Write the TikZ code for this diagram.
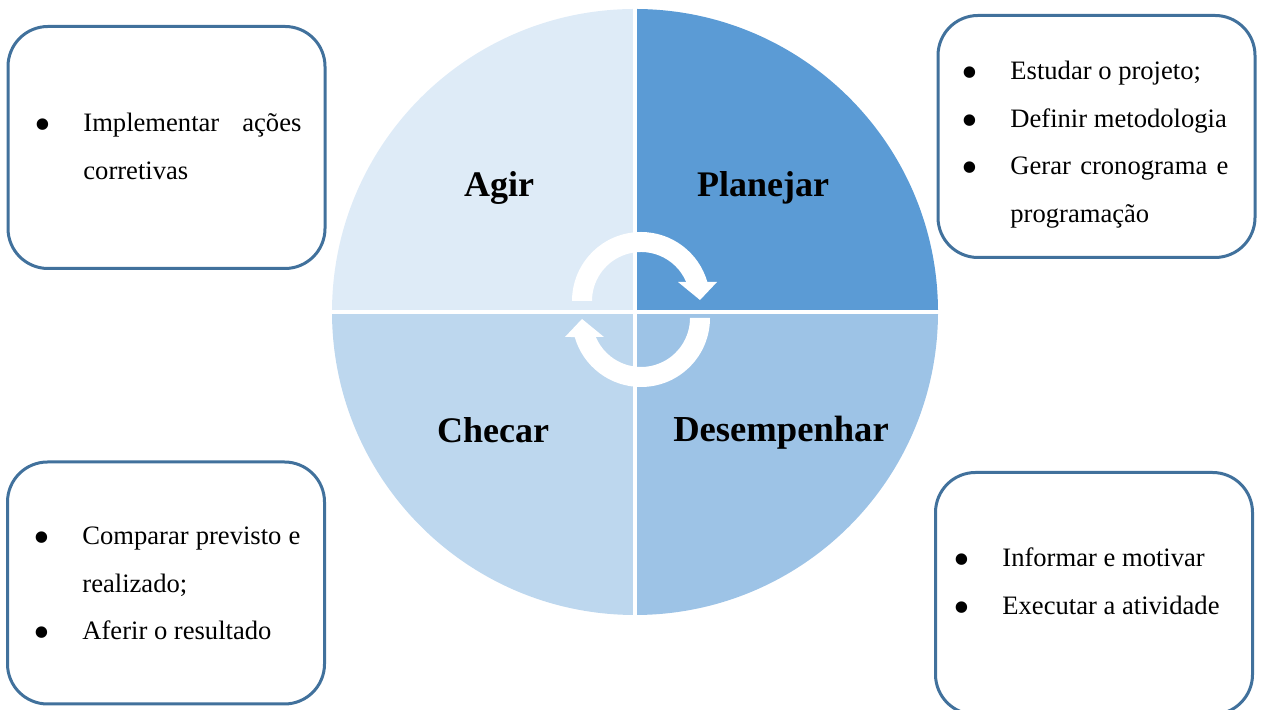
\documentclass[tikz,border=0pt]{standalone}
\usepackage{fontspec}
\setmainfont{Liberation Serif}
\usetikzlibrary{positioning}

\definecolor{agirC}{HTML}{DEEBF7}
\definecolor{planC}{HTML}{5B9BD5}
\definecolor{desC}{HTML}{9DC3E6}
\definecolor{checC}{HTML}{BDD7EE}
\definecolor{boxLine}{HTML}{41719C}

\newcommand{\pdcabullet}{\raisebox{-4.4pt}{\fontsize{24}{0}\selectfont\textbullet}}
\newcommand{\pdcaitem}[1]{\noindent\hangindent=23.5pt\hangafter=1\makebox[23.5pt][l]{\hspace*{-0.8pt}\pdcabullet}#1\par}

\begin{document}
\begin{tikzpicture}[x=0.5pt,y=0.5pt,
    quadlabel/.style={anchor=base,inner sep=0pt,font=\fontsize{18}{22}\selectfont\bfseries},
    notebox/.style={draw=boxLine,line width=1.5pt,rounded corners=20pt,fill=white,
      minimum width=158.5pt,minimum height=121pt,inner sep=0pt},
    notetext/.style={anchor=base west,inner sep=0pt,text width=132.5pt,align=justify,
      font=\fontsize{13.3}{23.7}\selectfont}]
  \useasboundingbox (0,0) rectangle (1262,710);
  \clip (0,0) rectangle (1262,710);
  % the four quarters of the cycle
  \coordinate (O) at (635,398);
  \foreach \col/\a in {planC/0, agirC/90, checC/180, desC/270}
    \fill[\col] (O) -- ++(\a:303) arc[start angle=\a,end angle=\a+90,radius=303] -- cycle;
  \draw[white,line width=2pt] (635,90) -- (635,706);
  \draw[white,line width=2pt] (327,398) -- (943,398);
  % round arrows in the middle
  \foreach \cx/\cy/\r in {641/409/0, 641/392/180} {
    \begin{scope}[shift={(\cx,\cy)},rotate=\r]
      \fill[white] (180:69) arc[start angle=180,end angle=16,radius=69] -- (76,19) -- (59,1)
        -- (37,19) -- (22.8:49) arc[start angle=22.8,end angle=180,radius=49] -- cycle;
    \end{scope}
  }
  \node[quadlabel] (agir) at (499,513) {Agir};
  \node[quadlabel] (planejar) at (763,513) {Planejar};
  \node[quadlabel] (checar) at (493,267) {Checar};
  \node[quadlabel,font=\fontsize{18.3}{22}\selectfont\bfseries] (desempenhar) at (781,268) {Desempenhar};
  % boxes with the tasks
  \node[notebox] (boxA) at (166.5,562.5) {};
  \node[notebox] (boxP) at (1096.5,573.5) {};
  \node[notebox] (boxC) at (166,127) {};
  \node[notebox] (boxD) at (1094,116.5) {};
  \node[notetext] (textA) at (36,578) {\pdcaitem{Implementar ações corretivas}};
  \node[notetext] (textP) at (963,630) {\pdcaitem{Estudar o projeto;}\pdcaitem{Definir metodologia}\pdcaitem{Gerar cronograma e programação}};
  \node[notetext] (textC) at (35,165) {\pdcaitem{Comparar previsto e realizado;}\pdcaitem{Aferir o resultado}};
  \node[notetext] (textD) at (955,143) {\pdcaitem{Informar e motivar}\pdcaitem{Executar a atividade}};
\end{tikzpicture}
\end{document}
